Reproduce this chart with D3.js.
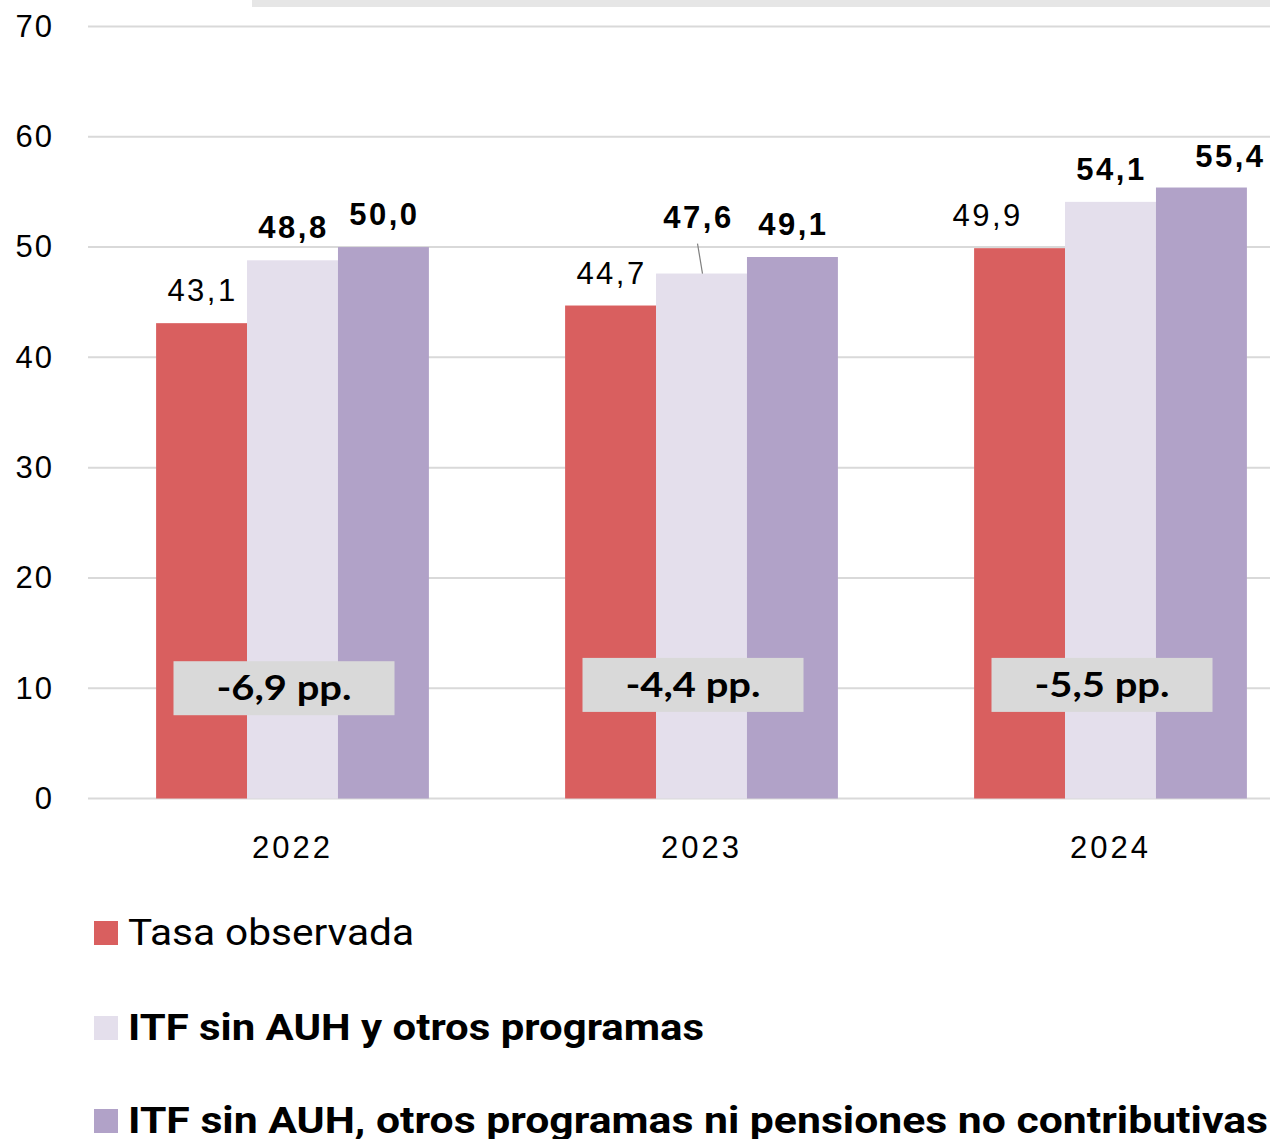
<!DOCTYPE html>
<html>
<head>
<meta charset="utf-8">
<script src="https://cdn.jsdelivr.net/npm/d3@7.9.0/dist/d3.min.js"></script>
<style>
  html, body { margin: 0; padding: 0; background: #fff; }
  svg { display: block; }
</style>
</head>
<body>
<svg id="chart" width="1270" height="1139"></svg>
<script>
// Data
const years = ['2022', '2023', '2024'];
const seriesNames = [
  'Tasa observada',
  'ITF sin AUH y otros programas',
  'ITF sin AUH, otros programas ni pensiones no contributivas'
];
const tasaObservada = [43.1, 44.7, 49.9];
const sinAuhOtros = [48.8, 47.6, 54.1];
const sinAuhOtrosPensiones = [50.0, 49.1, 55.4];
const gapLabels = ['-6,9 pp.', '-4,4 pp.', '-5,5 pp.'];
const yTicks = [0, 10, 20, 30, 40, 50, 60, 70];

const colors = ['#D95F5F', '#E4DFEC', '#B1A2C8'];
const boldLabel = [false, true, true];

const svg = d3.select('#chart');
const fmt = v => v.toFixed(1).replace('.', ',');
const font = 'Liberation Sans, Arial, sans-serif';

const y = d3.scaleLinear().domain([0, 70]).range([798.5, 26.5]);
const x0 = d3.scaleBand().domain(years).range([88, 1315])
  .paddingInner(0.333).paddingOuter(0.1665);
const x1 = d3.scaleBand().domain(d3.range(3)).range([0, x0.bandwidth()]);

const series = [tasaObservada, sinAuhOtros, sinAuhOtrosPensiones];

// grey strip at the very top (cut off title box)
svg.append('rect').attr('x', 252).attr('y', 0).attr('width', 1018).attr('height', 7)
  .attr('fill', '#E6E6E6');

// gridlines
svg.append('g').selectAll('line').data(yTicks).join('line')
  .attr('x1', 88).attr('x2', 1270)
  .attr('y1', d => y(d)).attr('y2', d => y(d))
  .attr('stroke', '#D9D9D9').attr('stroke-width', 2);

// y axis labels
const yAxis = svg.append('g').attr('transform', 'translate(54,0)')
  .call(d3.axisLeft(y).tickValues(yTicks).tickSize(0).tickPadding(0));
yAxis.select('.domain').remove();
yAxis.selectAll('text')
  .attr('font-family', font)
  .attr('font-size', 31).attr('letter-spacing', 2).attr('fill', '#000');

// bars
const groups = svg.append('g').selectAll('g').data(years).join('g')
  .attr('transform', d => `translate(${x0(d)},0)`);

groups.selectAll('rect').data((d, i) => series.map((s, k) => ({ k, v: s[i] }))).join('rect')
  .attr('x', d => x1(d.k)).attr('width', x1.bandwidth())
  .attr('y', d => y(d.v)).attr('height', d => y(0) - y(d.v))
  .attr('fill', d => colors[d.k]);

// value labels (with small manual offsets as in the original)
const labelDx = [[0, 0, 0], [0, -4, 0], [-33, 0, 28]];
const labelDy = [[-22, -22, -22], [-22, -46, -22], [-22, -22, -21]];
groups.each(function (yr, i) {
  const g = d3.select(this);
  series.forEach((s, k) => {
    const cx = x1(k) + x1.bandwidth() / 2 + labelDx[i][k] + 1;
    g.append('text')
      .attr('x', cx).attr('y', y(s[i]) + labelDy[i][k])
      .attr('text-anchor', 'middle')
      .attr('font-family', font)
      .attr('font-size', 31)
      .attr('letter-spacing', 2.5)
      .attr('font-weight', boldLabel[k] ? 'bold' : 'normal')
      .attr('fill', '#000')
      .text(fmt(s[i]));
  });
});

// leader line for 2023 middle label
{
  const cx = x0('2023') + x1(1) + x1.bandwidth() / 2;
  svg.append('line')
    .attr('x1', cx - 4).attr('y1', y(sinAuhOtros[1]) - 30)
    .attr('x2', cx + 1).attr('y2', y(sinAuhOtros[1]))
    .attr('stroke', '#7F7F7F').attr('stroke-width', 1.2);
}

// gap boxes
const boxValue = [10, 10.3, 10.3];
groups.each(function (yr, i) {
  const g = d3.select(this);
  const cx = x0.bandwidth() / 2 - 8.5;
  const cy = y(boxValue[i]);
  g.append('rect').attr('x', cx - 110.5).attr('y', cy - 27)
    .attr('width', 221).attr('height', 54).attr('fill', '#D9D9D9');
  g.append('text').attr('x', cx).attr('y', cy + 12)
    .attr('text-anchor', 'middle')
    .attr('font-family', 'Lato, "DejaVu Sans", sans-serif')
    .attr('font-weight', 'bold').attr('font-size', 34)
    .attr('textLength', 135).attr('lengthAdjust', 'spacingAndGlyphs')
    .attr('fill', '#000')
    .text(gapLabels[i]);
});

// x axis labels
const xAxis = svg.append('g').attr('transform', `translate(0,${y(0)})`)
  .call(d3.axisBottom(x0).tickSize(0).tickPadding(0));
xAxis.select('.domain').remove();
xAxis.selectAll('text')
  .attr('font-family', font)
  .attr('font-size', 31).attr('letter-spacing', 3).attr('fill', '#000')
  .attr('dy', null).attr('y', 59);

// legend
const legendY = [945, 1040, 1133];
const legendW = [286, 576, 1140];
const legend = svg.append('g').selectAll('g').data(seriesNames).join('g')
  .attr('transform', (d, i) => `translate(94,${legendY[i]})`);
legend.append('rect').attr('x', 0).attr('y', -24).attr('width', 24).attr('height', 24)
  .attr('fill', (d, i) => colors[i]);
legend.append('text').attr('x', 34).attr('y', 0)
  .attr('font-family', '"Liberation Sans Narrow", Roboto, sans-serif')
  .attr('font-size', 37)
  .attr('font-weight', (d, i) => i === 0 ? 'normal' : 'bold')
  .attr('textLength', (d, i) => legendW[i])
  .attr('lengthAdjust', 'spacingAndGlyphs')
  .attr('fill', '#000')
  .text(d => d);
</script>
</body>
</html>
